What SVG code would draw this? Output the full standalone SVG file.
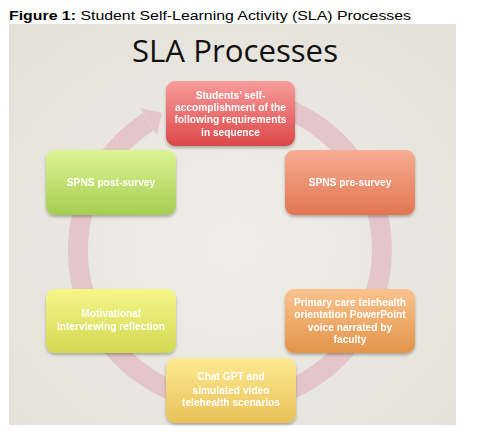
<svg xmlns="http://www.w3.org/2000/svg" width="488" height="432" viewBox="0 0 488 432">
<defs>
<radialGradient id="bg" cx="0.5" cy="0.55" r="0.7">
<stop offset="0" stop-color="#efeee8"/>
<stop offset="1" stop-color="#e3e1d8"/>
</radialGradient>
<linearGradient id="gRed" x1="0" y1="0" x2="0" y2="1"><stop offset="0" stop-color="#f89c9c"/><stop offset="1" stop-color="#dc4848"/></linearGradient>
<linearGradient id="gSal" x1="0" y1="0" x2="0" y2="1"><stop offset="0" stop-color="#f8ad95"/><stop offset="1" stop-color="#e07650"/></linearGradient>
<linearGradient id="gGrn" x1="0" y1="0" x2="0" y2="1"><stop offset="0" stop-color="#ddf594"/><stop offset="1" stop-color="#a6cd52"/></linearGradient>
<linearGradient id="gYel" x1="0" y1="0" x2="0" y2="1"><stop offset="0" stop-color="#f6f68a"/><stop offset="1" stop-color="#d2d852"/></linearGradient>
<linearGradient id="gGld" x1="0" y1="0" x2="0" y2="1"><stop offset="0" stop-color="#fdea92"/><stop offset="1" stop-color="#e9c158"/></linearGradient>
<linearGradient id="gOrg" x1="0" y1="0" x2="0" y2="1"><stop offset="0" stop-color="#fac38e"/><stop offset="1" stop-color="#e3944a"/></linearGradient>
<filter id="sh" x="-10%" y="-10%" width="120%" height="130%">
<feDropShadow dx="0" dy="2" stdDeviation="1.6" flood-color="#000" flood-opacity="0.28"/>
</filter>
<style>
.cap{font-family:"Liberation Sans",Arial,sans-serif;font-size:13.5px;fill:#000}
.title{font-family:"Open Sans","Liberation Sans",sans-serif;font-size:31px;fill:#111}
.lbl{font-family:"Liberation Sans",Arial,sans-serif;font-size:10.2px;font-weight:bold;fill:#fff;text-anchor:middle}
.ring{fill:none;stroke:#e4c6c9;stroke-width:20}
</style>
</defs>
<rect x="0" y="0" width="488" height="432" fill="#fff"/>
<text class="cap" x="9" y="20" textLength="402" lengthAdjust="spacingAndGlyphs"><tspan font-weight="bold">Figure 1:</tspan> Student Self-Learning Activity (SLA) Processes</text>
<rect x="9" y="24" width="447" height="401" fill="url(#bg)"/>
<text class="title" x="235" y="62" text-anchor="middle" textLength="206" lengthAdjust="spacingAndGlyphs">SLA Processes</text>
<g id="connectors">
<path class="ring" d="M269.3,103.2 A152,152 0 1 1 148.3,121.8"/>
<polygon points="162,113 139.9,108 157.1,135" fill="#e4c6c9"/>
</g>
<g id="n1" filter="url(#sh)">
<rect x="166" y="81" width="129" height="65" rx="9" fill="url(#gRed)"/>
<text class="lbl" x="230.5"><tspan x="230.5" y="99">Students’ self-</tspan><tspan x="230.5" y="111">accomplishment of the</tspan><tspan x="230.5" y="123">following requirements</tspan><tspan x="230.5" y="135.5">in sequence</tspan></text>
</g>
<g id="n2" filter="url(#sh)">
<rect x="285" y="150" width="130" height="65" rx="9" fill="url(#gSal)"/>
<text class="lbl" x="350" y="186">SPNS pre-survey</text>
</g>
<g id="n3" filter="url(#sh)">
<rect x="285" y="289" width="130" height="64" rx="9" fill="url(#gOrg)"/>
<text class="lbl"><tspan x="350" y="306">Primary care telehealth</tspan><tspan x="350" y="318">orientation PowerPoint</tspan><tspan x="350" y="330.5">voice narrated by</tspan><tspan x="350" y="343">faculty</tspan></text>
</g>
<g id="n4" filter="url(#sh)">
<rect x="166" y="358" width="130" height="65" rx="9" fill="url(#gGld)"/>
<text class="lbl"><tspan x="231" y="380">Chat GPT and</tspan><tspan x="231" y="393.5">simulated video</tspan><tspan x="231" y="406">telehealth scenarios</tspan></text>
</g>
<g id="n5" filter="url(#sh)">
<rect x="46" y="289" width="130" height="64" rx="9" fill="url(#gYel)"/>
<text class="lbl"><tspan x="111" y="317">Motivational</tspan><tspan x="111" y="330">interviewing reflection</tspan></text>
</g>
<g id="n6" filter="url(#sh)">
<rect x="46" y="150" width="130" height="65" rx="9" fill="url(#gGrn)"/>
<text class="lbl" x="111" y="186">SPNS post-survey</text>
</g>
</svg>
